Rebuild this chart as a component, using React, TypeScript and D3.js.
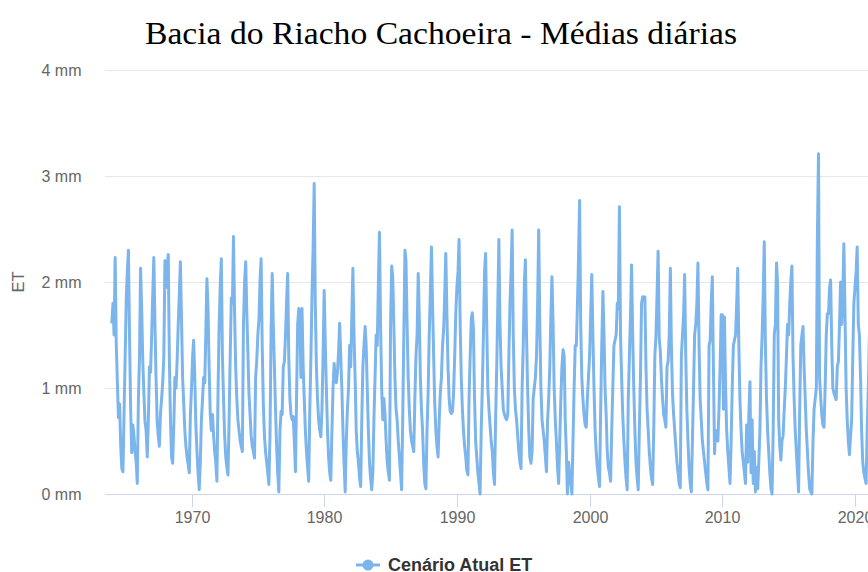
import React from "react";
import * as d3 from "d3";

// Monthly mean daily ET (mm), Jan..Dec per row
const et1960s = [
  [1.62, 1.8, 1.5, 2.23, 1.42, 1.05, 0.72, 0.85, 0.45, 0.24, 0.21, 0.75], // 1964
  [1.3, 1.85, 2.1, 2.3, 1.5, 0.8, 0.39, 0.65, 0.55, 0.4, 0.3, 0.1], // 1965
  [0.9, 1.3, 2.13, 1.75, 1.25, 0.95, 0.68, 0.6, 0.35, 0.7, 1.2, 1.15], // 1966
  [1.5, 1.9, 2.23, 1.6, 1.1, 0.68, 0.55, 0.45, 0.76, 0.9, 1.05, 1.3], // 1967
  [2.2, 1.95, 2.15, 2.26, 1.3, 0.7, 0.35, 0.29, 0.65, 1.1, 1.0, 1.25], // 1968
  [1.6, 1.9, 2.19, 1.65, 1.1, 0.85, 0.6, 0.45, 0.35, 0.28, 0.2, 0.75], // 1969
];
const et1970s = [
  [1.0, 1.3, 1.45, 1.1, 0.65, 0.4, 0.2, 0.04, 0.3, 0.7, 0.9, 1.1],
  [1.05, 1.55, 2.03, 1.75, 1.2, 0.75, 0.6, 0.75, 0.55, 0.4, 0.3, 0.12],
  [0.95, 1.6, 1.95, 2.22, 1.3, 0.9, 0.55, 0.35, 0.25, 0.18, 0.7, 1.3],
  [1.85, 1.8, 2.43, 1.7, 1.2, 0.9, 0.7, 0.6, 0.5, 0.45, 0.4, 1.6],
  [2.0, 2.19, 1.75, 1.35, 0.95, 0.75, 0.55, 0.45, 0.4, 0.34, 1.1, 1.25],
  [1.5, 1.65, 2.0, 2.22, 1.4, 0.85, 0.55, 0.4, 0.3, 0.2, 0.09, 0.55],
  [1.55, 2.08, 1.6, 1.2, 0.8, 0.45, 0.2, 0.02, 0.6, 0.78, 0.75, 1.2],
  [1.25, 1.5, 1.8, 2.08, 1.3, 0.9, 0.75, 0.7, 0.73, 0.5, 0.21, 0.9],
  [1.6, 1.75, 1.72, 1.1, 1.75, 1.2, 0.9, 0.6, 0.4, 0.25, 0.12, 0.8],
  [1.3, 1.9, 2.3, 2.93, 1.8, 1.2, 0.9, 0.7, 0.6, 0.54, 0.8, 1.3],
];
const et1980s = [
  [1.92, 1.4, 1.0, 0.6, 0.35, 0.2, 0.13, 0.6, 1.0, 1.23, 1.1, 1.05],
  [1.15, 1.35, 1.61, 1.3, 1.0, 0.6, 0.3, 0.02, 0.5, 0.8, 1.0, 1.4],
  [1.2, 1.7, 2.13, 1.5, 1.1, 0.6, 0.4, 0.3, 0.15, 0.07, 0.7, 1.2],
  [1.4, 1.58, 1.4, 1.0, 0.6, 0.3, 0.15, 0.04, 0.2, 0.7, 1.1, 1.5],
  [1.4, 2.0, 2.47, 1.6, 1.0, 0.7, 0.9, 0.75, 0.5, 0.3, 0.2, 0.13],
  [1.6, 2.15, 2.05, 1.6, 1.1, 0.8, 0.7, 0.5, 0.35, 0.2, 0.04, 0.7],
  [1.5, 2.3, 2.2, 1.6, 1.1, 0.8, 0.6, 0.5, 0.45, 0.4, 0.9, 1.3],
  [1.5, 2.08, 1.7, 1.1, 0.8, 0.6, 0.3, 0.1, 0.05, 0.6, 0.95, 1.5],
  [1.9, 2.33, 1.8, 1.3, 0.85, 0.6, 0.45, 0.35, 0.7, 0.95, 1.1, 1.4],
  [1.55, 1.9, 2.27, 1.7, 1.2, 0.9, 0.78, 0.76, 0.78, 0.95, 1.3, 1.7],
];
const et1990s = [
  [1.95, 2.1, 2.4, 1.6, 1.1, 0.8, 0.6, 0.45, 0.35, 0.22, 0.18, 0.9],
  [1.3, 1.65, 1.71, 1.55, 0.9, 0.5, 0.35, 0.2, 0.1, 0.0, 0.6, 1.0],
  [1.5, 2.1, 2.27, 1.6, 1.0, 0.8, 0.65, 0.5, 0.4, 0.2, 0.09, 0.7],
  [1.2, 1.8, 2.4, 1.6, 1.2, 1.0, 0.8, 0.75, 0.72, 0.7, 0.75, 1.3],
  [1.8, 2.1, 2.49, 1.5, 1.0, 0.8, 0.7, 0.55, 0.4, 0.3, 0.24, 1.0],
  [1.4, 2.0, 2.21, 1.5, 1.0, 0.6, 0.35, 0.29, 0.4, 0.9, 1.0, 1.1],
  [1.3, 1.8, 2.49, 1.6, 1.0, 0.7, 0.6, 0.5, 0.35, 0.21, 0.7, 0.9],
  [1.2, 1.7, 2.05, 1.6, 1.0, 0.7, 0.5, 0.25, 0.1, 0.5, 0.9, 1.2],
  [1.36, 1.3, 0.7, 0.4, 0.0, 0.3, 0.2, 0.1, 0.0, 0.5, 1.0, 1.4],
  [1.4, 1.8, 2.2, 2.77, 1.6, 1.1, 0.9, 0.75, 0.65, 0.63, 0.9, 1.1],
];
const et2000s = [
  [1.3, 1.7, 2.07, 1.5, 1.0, 0.6, 0.4, 0.25, 0.15, 0.07, 0.8, 1.4],
  [1.91, 1.5, 1.0, 0.75, 0.4, 0.25, 0.2, 0.12, 0.6, 1.0, 1.4, 1.45],
  [1.5, 1.8, 1.75, 2.71, 1.5, 1.1, 0.75, 0.5, 0.3, 0.15, 0.04, 0.9],
  [1.3, 1.7, 2.16, 1.5, 1.0, 0.6, 0.3, 0.15, 0.04, 0.6, 1.1, 1.8],
  [1.86, 1.85, 1.86, 1.2, 0.8, 0.6, 0.4, 0.25, 0.15, 0.09, 0.6, 1.3],
  [1.5, 1.9, 2.29, 1.46, 1.35, 1.08, 0.9, 0.75, 0.7, 0.63, 1.2, 1.25],
  [1.5, 2.13, 1.4, 0.95, 0.75, 0.6, 0.45, 0.3, 0.2, 0.1, 0.06, 1.3],
  [1.5, 1.7, 2.07, 1.3, 0.8, 0.5, 0.25, 0.1, 0.02, 0.5, 1.0, 1.5],
  [1.6, 1.8, 2.18, 1.4, 0.9, 0.7, 0.5, 0.4, 0.3, 0.2, 0.1, 0.04],
  [1.4, 1.45, 1.8, 2.05, 1.2, 0.38, 0.6, 0.55, 0.5, 0.8, 1.2, 1.69],
];
const et2010s = [
  [1.69, 0.8, 1.67, 1.0, 0.6, 0.4, 0.25, 0.1, 0.5, 1.0, 1.4, 1.45],
  [1.5, 1.8, 2.13, 1.4, 0.9, 0.6, 0.4, 0.3, 0.2, 0.1, 0.65, 0.3],
  [0.75, 1.06, 0.2, 0.7, 0.1, 0.4, 0.02, 0.25, 0.05, 0.3, 0.6, 1.2],
  [1.5, 1.9, 2.38, 1.4, 0.9, 0.6, 0.4, 0.2, 0.05, 0.0, 0.6, 1.5],
  [1.6, 2.18, 2.0, 0.7, 0.45, 0.32, 0.5, 0.55, 0.8, 1.0, 1.3, 1.6],
  [1.5, 1.8, 2.0, 2.15, 1.3, 0.9, 0.6, 0.4, 0.2, 0.02, 0.8, 1.4],
  [1.5, 1.58, 1.2, 0.9, 0.6, 0.4, 0.2, 0.05, 0.02, 0.0, 0.5, 0.8],
  [0.9, 1.0, 2.4, 3.21, 1.1, 0.9, 0.75, 0.65, 0.63, 1.0, 1.5, 1.7],
  [1.7, 1.95, 2.02, 1.4, 1.0, 0.95, 0.92, 0.89, 1.2, 1.25, 1.6, 2.0],
  [1.6, 1.9, 2.36, 1.7, 1.0, 0.7, 0.5, 0.37, 0.55, 0.7, 1.3, 1.8],
];
const et2020s = [
  [1.95, 2.1, 2.33, 1.6, 1.5, 1.1, 0.6, 0.3, 0.2, 0.15, 0.1, 0.6],
  [1.0, 1.5, 2.0, 1.6],
];

const startYear = 1964;
const yTicks = [0, 1, 2, 3, 4];
const xTickYears = [1970, 1980, 1990, 2000, 2010, 2020];
const titleText = "Bacia do Riacho Cachoeira - Médias diárias";
const seriesName = "Cenário Atual ET";
const yAxisTitle = "ET";

const allRows = [...et1960s, ...et1970s, ...et1980s, ...et1990s, ...et2000s, ...et2010s, ...et2020s];
const data: { date: Date; v: number }[] = [];
allRows.forEach((row, yi) => {
  row.forEach((v, m) => data.push({ date: new Date(startYear + yi, m, 1), v }));
});

const W = 868;
const H = 572;
const plotLeft = 105;
const plotRight = 930;
const color = "#7cb5ec";
const font = "'Liberation Sans', Arial, Helvetica, sans-serif";

export default function App() {
  const x = d3
    .scaleTime()
    .domain([new Date(1970, 0, 1), new Date(2020, 0, 1)])
    .range([191.5, 855]);
  const y = d3.scaleLinear().domain([0, 4]).range([494, 70]);
  const line = d3
    .line<{ date: Date; v: number }>()
    .x((d) => x(d.date))
    .y((d) => y(d.v));

  return (
    <svg
      width={W}
      height={H}
      style={{ position: "absolute", left: 0, top: 0, background: "#fff" }}
    >
      <rect x={0} y={0} width={W} height={H} fill="#fff" />
      <text
        x={441}
        y={43.5}
        textAnchor="middle"
        fontFamily="'Liberation Serif', 'Times New Roman', serif"
        fontSize={32}
        fill="#000"
        textLength={592}
        lengthAdjust="spacingAndGlyphs"
      >
        {titleText}
      </text>
      {yTicks.map((t) => (
        <g key={t}>
          <line
            x1={plotLeft}
            x2={plotRight}
            y1={Math.round(y(t)) + 0.5}
            y2={Math.round(y(t)) + 0.5}
            stroke={t === 0 ? "#ccd6eb" : "#e6e6e6"}
            strokeWidth={1}
          />
          <text
            x={81.5}
            y={y(t) + 6}
            textAnchor="end"
            fontFamily={font}
            fontSize={16}
            fill="#666"
          >
            {`${t} mm`}
          </text>
        </g>
      ))}
      <text
        transform={`translate(24,${282}) rotate(-90)`}
        textAnchor="middle"
        fontFamily={font}
        fontSize={16.5}
        fill="#666"
      >
        {yAxisTitle}
      </text>
      {xTickYears.map((yr) => {
        const px = Math.round(x(new Date(yr, 0, 1))) + 0.5;
        return (
          <g key={yr}>
            <line x1={px} x2={px} y1={494} y2={507} stroke="#ccd6eb" strokeWidth={1} />
            <text
              x={px}
              y={522.7}
              textAnchor="middle"
              fontFamily={font}
              fontSize={16}
              fill="#666"
            >
              {yr}
            </text>
          </g>
        );
      })}
      <path
        d={line(data) || ""}
        fill="none"
        stroke={color}
        strokeWidth={3}
        strokeLinejoin="round"
        strokeLinecap="round"
      />
      <g>
        <line x1={356} x2={380} y1={565} y2={565} stroke={color} strokeWidth={3} />
        <circle cx={368} cy={565} r={5.5} fill={color} />
        <text
          x={388}
          y={570.5}
          fontFamily={font}
          fontSize={18}
          fontWeight="bold"
          fill="#333"
        >
          {seriesName}
        </text>
      </g>
    </svg>
  );
}
